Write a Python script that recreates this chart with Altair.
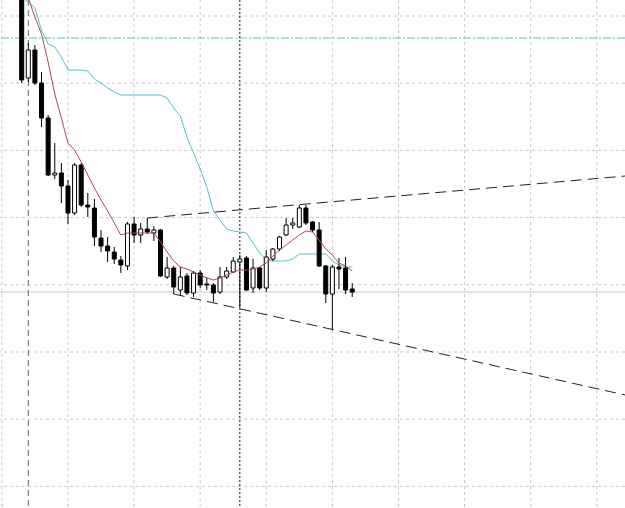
import altair as alt
import pandas as pd

# ---- candle data (price in chart points) ----
opens = [505, 422, 450, 417, 382, 325, 327, 314, 287, 335, 295, 292, 262, 254, 248, 240,
         234, 276, 265, 271, 267, 270, 223, 232, 210, 224, 207, 227, 216, 215, 208, 223,
         228, 238, 242, 212, 232, 212, 241, 251, 265, 275, 273, 292, 278, 270, 234, 206,
         233, 232, 211]
highs = [515, 457, 455, 428, 385, 357, 337, 320, 337, 337, 307, 301, 270, 263, 253, 244,
         278, 283, 277, 282, 274, 271, 243, 234, 233, 227, 229, 230, 223, 217, 233, 233,
         243, 245, 244, 241, 233, 250, 252, 264, 282, 282, 295, 295, 279, 278, 235, 235,
         242, 243, 217]
lows = [417, 418, 415, 373, 324, 321, 297, 276, 285, 293, 283, 254, 248, 238, 236, 227,
        230, 257, 257, 266, 259, 223, 221, 206, 204, 205, 203, 212, 210, 198, 206, 221,
        227, 192, 209, 207, 210, 208, 239, 249, 264, 271, 272, 275, 268, 233, 197, 170,
        211, 206, 203]
closes = [420, 450, 417, 382, 325, 327, 314, 287, 335, 295, 293, 263, 254, 249, 241, 235,
          276, 265, 271, 268, 270, 224, 232, 213, 223, 207, 227, 215, 215, 207, 223, 229,
          239, 241, 210, 232, 212, 243, 251, 263, 275, 277, 292, 277, 270, 234, 206, 233,
          231, 210, 208]

# ---- indicator lines ----
ma_fast = [525, 502, 483, 466, 438, 406, 382, 357, 350, 338, 325, 312, 300, 289, 277, 265,
           267, 267, 267, 267, 267, 258, 248, 239, 233, 231, 228, 225, 222, 220, 222, 225,
           228, 230, 230, 231, 233, 237, 244, 250, 255, 260, 265, 269, 268, 260, 251, 245,
           237, 234, 229]
ma_slow = [502, 498, 492, 470, 456, 453, 443, 430, 430, 430, 429, 421, 417, 412, 408, 405,
           405, 405, 405, 405, 405, 405, 402, 392, 384, 363, 347, 331, 313, 289, 280, 271,
           269, 268, 267, 257, 247, 240, 239, 239, 239, 241, 246, 246, 246, 246, 246, 239,
           235, 233, 233]

# ---- grid / drawn objects ----
grid_x = [-3, 7, 17, 27, 37, 47, 57, 67, 77, 87]
grid_y = [484, 416.8, 349.6, 282.4, 215.2, 148, 80.8, 13.6]
level_cyan = [462]
level_bid = [208]
vline_dash = [1]
vline_dot = [33]
trend_x1 = [19, 23]
trend_y1 = [282, 206]
trend_x2 = [91.3, 91.3]
trend_y2 = [324, 105]

X_DOM = [-3.283, 91.27]
Y_DOM = [-8, 500]

n = len(opens)
candles = pd.DataFrame({"i": list(range(n)), "open": opens, "high": highs,
                        "low": lows, "close": closes})
lines = pd.DataFrame({"i": list(range(n)), "fast": ma_fast, "slow": ma_slow})

xs = alt.Scale(domain=X_DOM, nice=False, zero=False, padding=0)
ys = alt.Scale(domain=Y_DOM, nice=False, zero=False, padding=0)

gx = alt.Chart(pd.DataFrame({"x": grid_x})).mark_rule(
    color="#c8c8c8", strokeWidth=1, strokeDash=[3, 3]).encode(
    x=alt.X("x:Q", scale=xs, axis=None))
gy = alt.Chart(pd.DataFrame({"y": grid_y})).mark_rule(
    color="#c8c8c8", strokeWidth=1, strokeDash=[3, 3]).encode(
    y=alt.Y("y:Q", scale=ys, axis=None))

bid = alt.Chart(pd.DataFrame({"y": level_bid})).mark_rule(
    color="#c8c8c8", strokeWidth=1).encode(y=alt.Y("y:Q", scale=ys, axis=None))

cyan_level = alt.Chart(pd.DataFrame({"y": level_cyan})).mark_rule(
    color="#4fc4cc", strokeWidth=1, strokeDash=[8, 2, 2, 2]).encode(
    y=alt.Y("y:Q", scale=ys, axis=None))

vdash = alt.Chart(pd.DataFrame({"x": vline_dash})).mark_rule(
    color="#666666", strokeWidth=1, strokeDash=[6, 4]).encode(
    x=alt.X("x:Q", scale=xs, axis=None))

vdot = alt.Chart(pd.DataFrame({"x": vline_dot})).mark_rule(
    color="#111111", strokeWidth=1, strokeDash=[2, 2]).encode(
    x=alt.X("x:Q", scale=xs, axis=None))

trends = alt.Chart(pd.DataFrame({"x1": trend_x1, "y1": trend_y1,
                                 "x2": trend_x2, "y2": trend_y2})).mark_rule(
    color="#222222", strokeWidth=1, strokeDash=[11, 6], clip=True).encode(
    x=alt.X("x1:Q", scale=xs, axis=None), x2="x2:Q",
    y=alt.Y("y1:Q", scale=ys, axis=None), y2="y2:Q")

slow = alt.Chart(lines).mark_line(color="#4cc3cf", strokeWidth=1, clip=True).encode(
    x=alt.X("i:Q", scale=xs, axis=None), y=alt.Y("slow:Q", scale=ys, axis=None))

base = alt.Chart(candles)

wick = base.mark_rule(color="black", strokeWidth=1, clip=True).encode(
    x=alt.X("i:Q", scale=xs, axis=None),
    y=alt.Y("low:Q", scale=ys, axis=None), y2="high:Q")

body = base.mark_bar(size=4, stroke="black", strokeWidth=1, clip=True).encode(
    x=alt.X("i:Q", scale=xs, axis=None),
    y=alt.Y("open:Q", scale=ys, axis=None), y2="close:Q",
    fill=alt.condition("datum.close >= datum.open", alt.value("white"), alt.value("black")))

fast = alt.Chart(lines).mark_line(color="#b04a4a", strokeWidth=1, clip=True).encode(
    x=alt.X("i:Q", scale=xs, axis=None), y=alt.Y("fast:Q", scale=ys, axis=None))

chart = alt.layer(gx, gy, bid, cyan_level, vdash, vdot, trends, slow, wick, body, fast).properties(
    width=625, height=508, padding=0, autosize=alt.AutoSizeParams(type="none"),
    background="white"
).configure_view(stroke=None)

chart.save("out.html", embed_options={"renderer": "svg", "actions": False})
